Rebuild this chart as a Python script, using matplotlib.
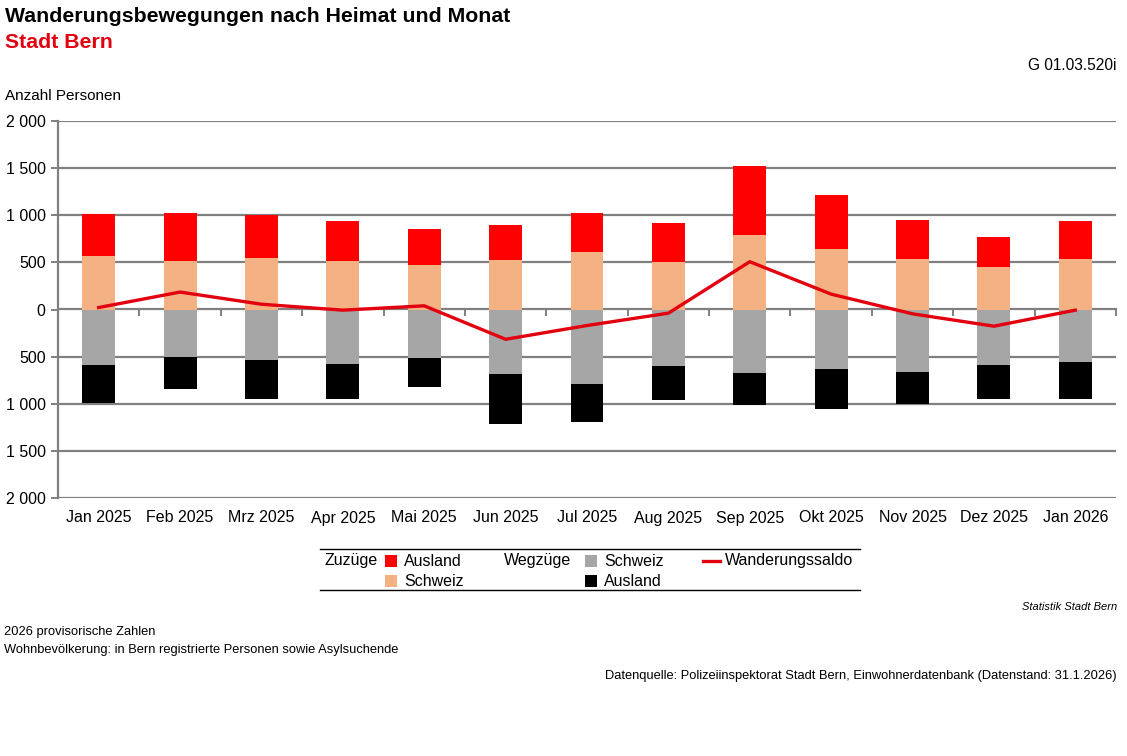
import matplotlib
matplotlib.use("Agg")
import matplotlib.pyplot as plt
from matplotlib.patches import Rectangle
from matplotlib.lines import Line2D
import numpy as np

plt.rcParams['font.family'] = ['Liberation Sans', 'DejaVu Sans']

months = ["Jan 2025", "Feb 2025", "Mrz 2025", "Apr 2025", "Mai 2025", "Jun 2025",
          "Jul 2025", "Aug 2025", "Sep 2025", "Okt 2025", "Nov 2025", "Dez 2025", "Jan 2026"]
zuz_schweiz = [564, 514, 550, 514, 468, 528, 613, 504, 794, 645, 539, 447, 539]
zuz_ausland = [450, 511, 453, 426, 390, 369, 412, 414, 731, 571, 415, 323, 401]
weg_schweiz = [592, 504, 535, 578, 514, 688, 794, 603, 674, 631, 663, 592, 560]
weg_ausland = [401, 336, 412, 369, 305, 525, 401, 354, 344, 422, 337, 355, 387]
saldo = [21, 185, 56, -7, 39, -316, -170, -39, 507, 163, -46, -177, -7]
yticks = [-2000, -1500, -1000, -500, 0, 500, 1000, 1500, 2000]
ytick_labels = ["2 000", "1 500", "1 000", "500", "0", "500", "1 000", "1 500", "2 000"]

C_RED = "#FF0000"
C_SALMON = "#F4B183"
C_GREY = "#A6A6A6"
C_BLACK = "#000000"
C_LINE = "#E3000F"
C_GRID = "#808080"

W, H = 1127, 756
fig = plt.figure(figsize=(W / 100, H / 100), dpi=100)
ax = fig.add_axes([58 / W, 1 - 498 / H, (1116 - 58) / W, (498 - 121) / H])

x = np.arange(len(months))
bw = 0.405
zs = np.array(zuz_schweiz)
za = np.array(zuz_ausland)
ws = np.array(weg_schweiz)
wa = np.array(weg_ausland)

ax.set_axisbelow(True)
for yv in yticks:
    if yv != 0:
        ax.axhline(yv, color=C_GRID, lw=1.6, zorder=0)

ax.bar(x, zs, bw, color=C_SALMON, zorder=2)
ax.bar(x, za, bw, bottom=zs, color=C_RED, zorder=2)
ax.bar(x, -ws, bw, color=C_GREY, zorder=2)
ax.bar(x, -wa, bw, bottom=-ws, color=C_BLACK, zorder=2)

ax.set_xlim(-0.5, len(months) - 0.5)
ax.set_ylim(-2000, 2000)
ax.set_yticks(yticks)
ax.set_yticklabels(ytick_labels, fontsize=11.5)
ax.set_xticks(x)
ax.set_xticklabels(months, fontsize=11.5)
ax.tick_params(axis='x', length=0, pad=9)
ax.tick_params(axis='y', length=5, color=C_GRID, width=1.4, pad=4)
for s in ['top', 'right', 'bottom']:
    ax.spines[s].set_visible(False)
ax.spines['left'].set_color(C_GRID)
ax.spines['left'].set_linewidth(1.6)

sec = ax.secondary_xaxis(0.5)
sec.set_xticks(np.arange(-0.5, len(months), 1.0))
sec.set_xticklabels([])
sec.tick_params(axis='x', direction='in', length=5, color=C_GRID, width=1.4)
for s in sec.spines.values():
    s.set_color(C_GRID)
    s.set_linewidth(1.6)

ax.plot(x, saldo, color=C_LINE, lw=2.4, zorder=4)

# Titles
fig.text(5 / W, 1 - 16 / H, "Wanderungsbewegungen nach Heimat und Monat", fontsize=15.3,
         fontweight='bold', va='center', ha='left')
fig.text(5 / W, 1 - 42 / H, "Stadt Bern", fontsize=15.3, fontweight='bold', color="#E3000F",
         va='center', ha='left')
fig.text(1117 / W, 1 - 65 / H, "G 01.03.520i", fontsize=11.2, va='center', ha='right')
fig.text(5 / W, 1 - 96 / H, "Anzahl Personen", fontsize=11, va='center', ha='left')

# Legend
fig.add_artist(Line2D([320 / W, 860 / W], [1 - 549 / H, 1 - 549 / H], color='black', lw=1.0))
fig.add_artist(Line2D([320 / W, 860 / W], [1 - 590 / H, 1 - 590 / H], color='black', lw=1.0))
r1, r2 = 1 - 561 / H, 1 - 581 / H
fs = 11.5
fig.text(324 / W, r1, "Zuzüge", fontsize=fs, va='center')
fig.text(504 / W, r1, "Wegzüge", fontsize=fs, va='center')
sq = 12
for (px, py, col, lab) in [(385, 561, C_RED, "Ausland"), (385, 581, C_SALMON, "Schweiz"),
                           (585, 561, C_GREY, "Schweiz"), (585, 581, C_BLACK, "Ausland")]:
    fig.add_artist(Rectangle((px / W, 1 - (py + sq / 2) / H), sq / W, sq / H,
                             facecolor=col, edgecolor='none', transform=fig.transFigure))
    fig.text((px + 19) / W, 1 - py / H, lab, fontsize=fs, va='center')
fig.add_artist(Line2D([703 / W, 720 / W], [r1, r1], color=C_LINE, lw=2.4))
fig.text(725 / W, r1, "Wanderungssaldo", fontsize=fs, va='center')

# Footer
fig.text(1117 / W, 1 - 607 / H, "Statistik Stadt Bern", fontsize=8, style='italic',
         va='center', ha='right')
fig.text(4 / W, 1 - 632 / H, "2026 provisorische Zahlen", fontsize=9.3, va='center')
fig.text(4 / W, 1 - 650 / H, "Wohnbevölkerung: in Bern registrierte Personen sowie Asylsuchende",
         fontsize=9.3, va='center')
fig.text(1117 / W, 1 - 676 / H,
         "Datenquelle: Polizeiinspektorat Stadt Bern, Einwohnerdatenbank (Datenstand: 31.1.2026)",
         fontsize=9.3, va='center', ha='right')

fig.savefig("out.png", dpi=100)
